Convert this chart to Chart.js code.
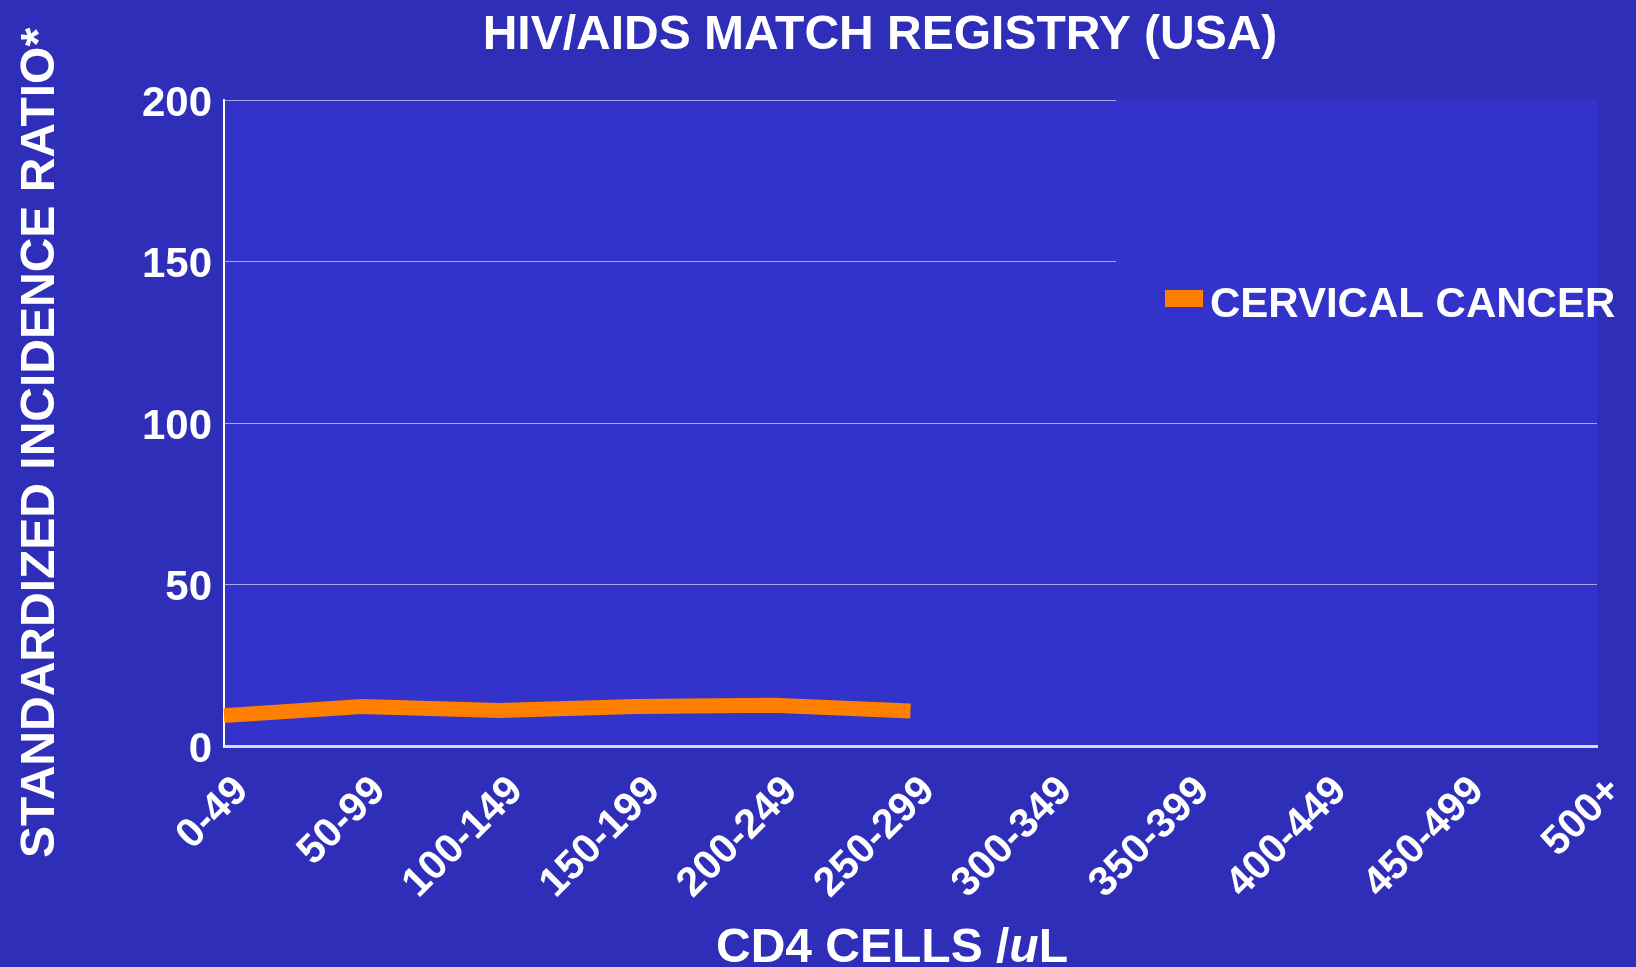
<!DOCTYPE html>
<html><head><meta charset="utf-8">
<script src="https://cdn.jsdelivr.net/npm/chart.js@4.4.0/dist/chart.umd.min.js"></script>
<style>html,body{margin:0;padding:0;background:#2E2EB8;overflow:hidden;}#wrap{width:1636px;height:967px;}</style>
</head><body><div id="wrap"><canvas id="c" width="1636" height="967"></canvas></div>
<script>
const categories = ['0-49','50-99','100-149','150-199','200-249','250-299','300-349','350-399','400-449','450-499','500+'];
const cervicalCancer = [9.4, 12.2, 11.0, 12.2, 12.6, 10.8, null, null, null, null, null];
const yTicks = [0, 50, 100, 150, 200];
const seriesName = 'CERVICAL CANCER';
const chartTitle = 'HIV/AIDS MATCH REGISTRY (USA)';
const yTitle = 'STANDARDIZED INCIDENCE RATIO*';
const xTitleParts = [['CD4 CELLS /', false], ['u', true], ['L', false]];

const FONT = '"Liberation Sans", Arial, Helvetica, sans-serif';
const OUTER_BG = '#2E2EB8';
const PLOT_BG = '#3333CC';
const ORANGE = '#FF8000';

const decor = {
  id: 'decor',
  beforeDraw(chart) {
    const {ctx, chartArea: a} = chart;
    ctx.save();
    ctx.fillStyle = OUTER_BG;
    ctx.fillRect(0, 0, chart.width, chart.height);
    ctx.fillStyle = PLOT_BG;
    ctx.fillRect(a.left, a.top, a.right - a.left, a.bottom - a.top);
    ctx.restore();
  },
  beforeDatasetsDraw(chart) {
    const {ctx, chartArea: a} = chart;
    ctx.save();
    ctx.fillStyle = PLOT_BG;
    ctx.fillRect(1116, a.top - 1, a.right - 1116, 250);
    ctx.restore();
  },
  afterDraw(chart) {
    const {ctx} = chart;
    ctx.save();
    ctx.fillStyle = '#FFFFFF';
    // main title
    ctx.font = 'bold 48px ' + FONT;
    ctx.textAlign = 'center';
    ctx.textBaseline = 'alphabetic';
    ctx.fillText(chartTitle, 880, 49);
    // y title
    ctx.save();
    ctx.translate(54, 443);
    ctx.rotate(-Math.PI / 2);
    ctx.textAlign = 'center';
    ctx.fillText(yTitle, 0, 0);
    ctx.restore();
    // x title with italic u
    const fonts = xTitleParts.map(([t, it]) => (it ? 'italic ' : '') + 'bold 48px ' + FONT);
    const widths = xTitleParts.map(([t], i) => { ctx.font = fonts[i]; return ctx.measureText(t).width; });
    const total = widths.reduce((s, w) => s + w, 0);
    let x = 892 - total / 2;
    ctx.textAlign = 'left';
    xTitleParts.forEach(([t], i) => { ctx.font = fonts[i]; ctx.fillText(t, x, 962); x += widths[i]; });
    // legend
    const ds = chart.data.datasets[0];
    ctx.fillStyle = ds.borderColor;
    ctx.fillRect(1165, 290, 38, 17);
    ctx.fillStyle = '#FFFFFF';
    ctx.font = 'bold 42px ' + FONT;
    ctx.textAlign = 'left';
    ctx.textBaseline = 'alphabetic';
    ctx.fillText(ds.label, 1210, 317);
    ctx.restore();
  }
};

new Chart(document.getElementById('c'), {
  type: 'line',
  data: {
    labels: categories,
    datasets: [{
      label: seriesName,
      data: cervicalCancer,
      borderColor: ORANGE,
      backgroundColor: ORANGE,
      borderWidth: 15,
      pointRadius: 0,
      pointHoverRadius: 0,
      tension: 0,
      spanGaps: false,
      borderCapStyle: 'butt',
      borderJoinStyle: 'miter'
    }]
  },
  options: {
    responsive: false,
    devicePixelRatio: 1,
    animation: false,
    layout: { padding: { top: 100, right: 39, left: 0, bottom: 0 } },
    plugins: { legend: { display: false }, title: { display: false }, tooltip: { enabled: false } },
    scales: {
      x: {
        offset: false,
        grid: { display: false, drawTicks: false },
        border: { display: true, color: '#D8D8E8', width: 3 },
        ticks: {
          color: '#FFFFFF',
          font: { family: FONT, size: 41, weight: 'bold' },
          maxRotation: 45, minRotation: 45,
          autoSkip: false,
          labelOffset: 18,
          padding: 21
        },
        afterFit(scale) { scale.height = 221; scale.paddingLeft = 0; scale.paddingRight = 0; }
      },
      y: {
        min: 0, max: 200,
        afterBuildTicks(scale) { scale.ticks = yTicks.map(v => ({ value: v })); },
        grid: { color: 'rgba(205,205,240,0.75)', lineWidth: 1, drawTicks: false },
        border: { display: true, color: '#FFFFFF', width: 2 },
        ticks: {
          color: '#FFFFFF',
          font: { family: FONT, size: 42, weight: 'bold' },
          padding: 12,
          labelOffset: 4
        },
        afterFit(scale) { scale.width = 224; scale.paddingTop = 0; scale.paddingBottom = 0; }
      }
    }
  },
  plugins: [decor]
});
</script>
</body></html>
